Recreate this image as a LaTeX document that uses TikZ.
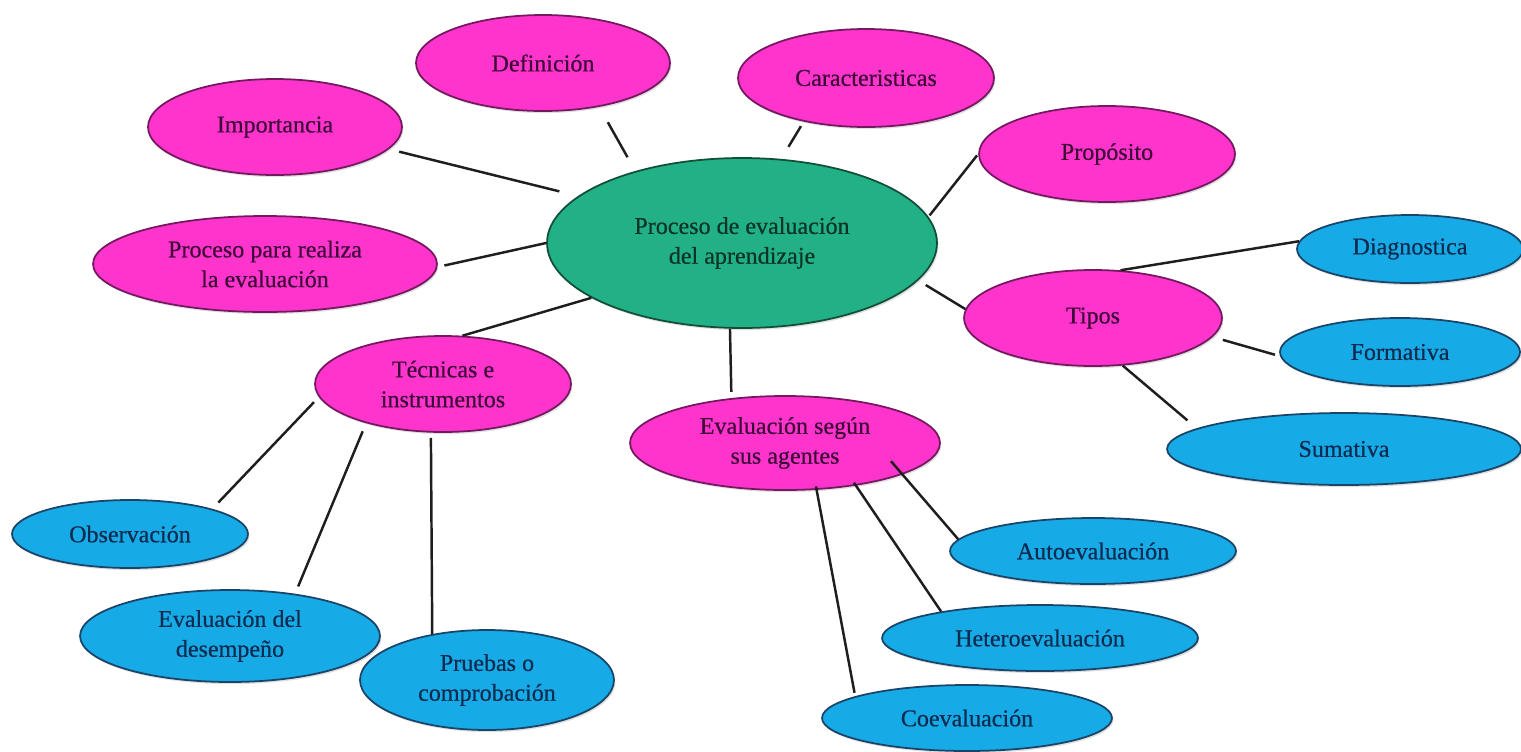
\documentclass[tikz,border=0pt]{standalone}
\usepackage{fontspec}
\setmainfont{Liberation Serif}
\usetikzlibrary{shapes.geometric,shadows}
\definecolor{pinkfill}{HTML}{FF34CC}
\definecolor{pinkline}{HTML}{74185F}
\definecolor{pinktext}{HTML}{3E0A38}
\definecolor{bluefill}{HTML}{16AAE6}
\definecolor{blueline}{HTML}{1A4468}
\definecolor{bluetext}{HTML}{0F2B50}
\definecolor{greenfill}{HTML}{22B187}
\definecolor{greenline}{HTML}{124F39}
\definecolor{greentext}{HTML}{0B3326}
\definecolor{linecol}{HTML}{1E1E1E}
\begin{document}
\begin{tikzpicture}[x=0.02cm,y=-0.02cm,
  bub/.style={ellipse, inner sep=0pt, line width=1pt, align=center,
    font=\fontsize{13.7}{17}\selectfont\addfontfeature{FakeBold=0.5},
    drop shadow={opacity=0.25,shadow xshift=0.8pt,shadow yshift=-1.2pt}},
  mainbub/.style={bub, fill=greenfill, draw=greenline, text=greentext},
  topic/.style={bub, fill=pinkfill, draw=pinkline, text=pinktext},
  leaf/.style={bub, fill=bluefill, draw=blueline, text=bluetext},
  link/.style={line width=1.4pt, draw=linecol}]
\useasboundingbox[fill=white] (0,0) rectangle (1521,751);

\node[mainbub, minimum width=7.8cm, minimum height=3.4cm] (c) at (742,243) {Proceso de evaluación\\del aprendizaje};

\node[topic, minimum width=5.08cm, minimum height=1.92cm] (def) at (543,63) {Definición};
\node[topic, minimum width=5.12cm, minimum height=1.96cm] (car) at (866,78) {Caracteristicas};
\node[topic, minimum width=5.08cm, minimum height=1.92cm] (imp) at (275,127) {Importancia};
\node[topic, minimum width=5.12cm, minimum height=1.92cm] (pro) at (1107,154) {Propósito};
\node[topic, minimum width=6.88cm, minimum height=1.92cm] (pp) at (265,264) {Proceso para realiza\\la evaluación};
\node[topic, minimum width=5.12cm, minimum height=1.92cm] (tec) at (443,384) {Técnicas e\\instrumentos};
\node[topic, minimum width=5.16cm, minimum height=1.92cm] (tip) at (1093,318) {Tipos};
\node[topic, minimum width=6.2cm, minimum height=1.88cm] (eva) at (785,443) {Evaluación según\\sus agentes};

\node[leaf, minimum width=4.52cm, minimum height=1.36cm] (dia) at (1410,249) {Diagnostica};
\node[leaf, minimum width=4.8cm, minimum height=1.36cm] (for) at (1400,352) {Formativa};
\node[leaf, minimum width=7.08cm, minimum height=1.44cm] (sum) at (1344,449) {Sumativa};
\node[leaf, minimum width=5.72cm, minimum height=1.32cm] (aut) at (1093,551) {Autoevaluación};
\node[leaf, minimum width=6.32cm, minimum height=1.32cm] (het) at (1040,638) {Heteroevaluación};
\node[leaf, minimum width=5.8cm, minimum height=1.32cm] (coe) at (967,718) {Coevaluación};
\node[leaf, minimum width=4.72cm, minimum height=1.36cm] (obs) at (130,534) {Observación};
\node[leaf, minimum width=6.0cm, minimum height=1.84cm] (des) at (230,636) {Evaluación del\\desempeño};
\node[leaf, minimum width=5.08cm, minimum height=2.0cm] (pru) at (487,680) {Pruebas o\\comprobación};

% connectors from the central node
\draw[link, shorten <=6pt, shorten >=11pt] (imp.-11.5) -- (c.164.6);
\draw[link, shorten <=10pt, shorten >=9pt] (def.-38) -- (c.146);
\draw[link, shorten <=3pt, shorten >=8pt] (car.215.6) -- (c.65.4);
\draw[link, shorten <=1pt, shorten >=1pt] (pro.180) -- (c.8.7);
\draw[link, shorten <=4pt] (pp.-1) -- (c.180);
\draw[link] (tec.68) -- (c.200);
\draw[link, shorten <=5pt] (c.-12) -- (tip.176.5);
\draw[link, shorten >=3.5pt] (c.262) -- (eva.140.8);
% Tipos
\draw[link] (tip.60) -- (dia.176);
\draw[link, shorten <=6pt, shorten >=3pt] (tip.-9) -- (for.182);
\draw[link, shorten >=7pt] (tip.-58) -- (sum.172.3);
% Técnicas e instrumentos
\draw[link, shorten <=4pt, shorten >=5pt] (tec.186.5) -- (obs.17);
\draw[link, shorten <=5pt, shorten >=4.5pt] (tec.207) -- (des.33);
\draw[link, shorten <=3pt] (tec.256) -- (pru.140);
% Evaluación según sus agentes
\draw[link, shorten <=-10pt] (eva.-15) -- (aut.175);
\draw[link, shorten <=-2pt] (eva.-31) -- (het.165);
\draw[link, shorten <=-2pt, shorten >=2pt] (eva.-56) -- (coe.169);
\end{tikzpicture}
\end{document}
